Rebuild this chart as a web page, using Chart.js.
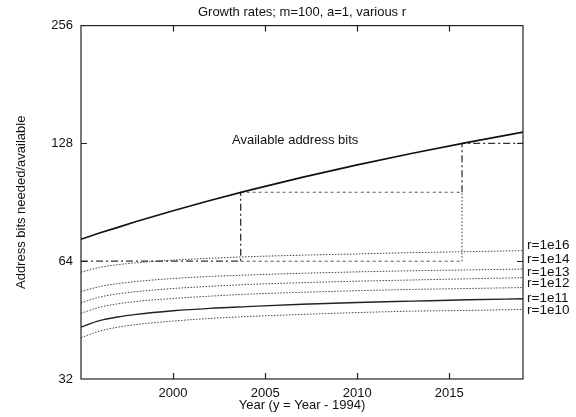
<!DOCTYPE html>
<html>
<head>
<meta charset="utf-8">
<title>Growth rates</title>
<script src="https://cdn.jsdelivr.net/npm/chart.js@4/dist/chart.umd.min.js"></script>
<style>
  html, body { margin: 0; padding: 0; background: #fff; }
  canvas { display: block; }
</style>
</head>
<body>
<canvas id="growthChart" width="576" height="417"></canvas>
<script>
// --- Data ---
const years = [1995, 1996, 1997, 1998, 2000, 2002, 2004, 2007, 2010, 2013, 2016, 2019];
const availableBits = [72.8, 75.5, 78.1, 80.8, 86.1, 91.5, 96.8, 104.8, 112.8, 120.8, 128.8, 136.8];
const r1e16 = [60.0, 61.7, 62.7, 63.4, 64.4, 65.1, 65.7, 66.3, 66.8, 67.3, 67.7, 68.1];
const r1e14 = [53.5, 55.1, 56.1, 56.8, 57.8, 58.5, 59.0, 59.6, 60.1, 60.5, 60.8, 61.1];
const r1e13 = [50.1, 51.8, 52.8, 53.5, 54.5, 55.2, 55.8, 56.4, 56.9, 57.3, 57.7, 58.1];
const r1e12 = [47.1, 48.8, 49.8, 50.5, 51.4, 52.1, 52.7, 53.3, 53.8, 54.2, 54.5, 54.8];
const r1e11 = [43.4, 45.1, 46.1, 46.8, 47.8, 48.5, 49.0, 49.7, 50.2, 50.6, 51.0, 51.3];
const r1e10 = [40.8, 42.4, 43.4, 44.1, 45.0, 45.7, 46.2, 46.8, 47.3, 47.7, 47.9, 48.2];

// staircase of address sizes (year where each step happens, bit levels)
const stepYears = [1995, 2003.67, 2015.69, 2019];
const stepBits = [64, 96, 128];

// curve labels at the right edge and the value they sit at
const rLabels = ['r=1e16', 'r=1e14', 'r=1e13', 'r=1e12', 'r=1e11', 'r=1e10'];
const rLabelBits = [70.1, 64.8, 60.0, 56.2, 51.5, 48.0];
const availLabel = 'Available address bits';

const xTicks = [2000, 2005, 2010, 2015];
const yTicks = [32, 64, 128, 256];

const FONT = '"Liberation Sans", Arial, Helvetica, sans-serif';

// --- helpers ---
const pts = (vals) => years.map((yr, i) => ({ x: yr, y: vals[i] }));
const gap = { x: null, y: null };

function curve(vals, dashed, width, color) {
    return {
        data: pts(vals),
        borderColor: color,
        borderWidth: width,
        borderDash: dashed ? [1.5, 1.5] : [],
        pointRadius: 0,
        fill: false,
        cubicInterpolationMode: 'monotone'
    };
}

// dark dash-dot steps
const stepDark = [
    { x: stepYears[0], y: stepBits[0] }, { x: stepYears[1], y: stepBits[0] }, { x: stepYears[1], y: stepBits[1] },
    gap,
    { x: stepYears[2], y: stepBits[1] }, { x: stepYears[2], y: stepBits[2] }, { x: stepYears[3], y: stepBits[2] }
];
// lighter dashed levels
const stepLight = [
    { x: stepYears[1], y: stepBits[1] }, { x: stepYears[2], y: stepBits[1] },
    gap,
    { x: stepYears[1], y: stepBits[0] }, { x: stepYears[2], y: stepBits[0] }
];
// dotted riser
const stepRiser = [
    { x: stepYears[2], y: stepBits[0] }, { x: stepYears[2], y: stepBits[1] }
];

const datasets = [
    { data: pts(availableBits), borderColor: '#111', borderWidth: 1.6, pointRadius: 0, fill: false },
    { data: stepDark, borderColor: '#333', borderWidth: 1.3, borderDash: [7, 3, 2, 3], pointRadius: 0, spanGaps: false },
    { data: stepLight, borderColor: '#555', borderWidth: 1.1, borderDash: [3, 3], pointRadius: 0, spanGaps: false },
    { data: stepRiser, borderColor: '#555', borderWidth: 1.2, borderDash: [1.5, 2], pointRadius: 0 },
    curve(r1e16, true, 1, '#444'),
    curve(r1e14, true, 1, '#444'),
    curve(r1e13, true, 1, '#444'),
    curve(r1e12, true, 1, '#444'),
    curve(r1e11, false, 1.4, '#222'),
    curve(r1e10, true, 1, '#444')
];

// --- frame, inward ticks and text labels ---
const framePlugin = {
    id: 'frame',
    afterDatasetsDraw(chart) {
        const { ctx, chartArea: a, scales: { x, y } } = chart;
        ctx.save();
        ctx.strokeStyle = '#222';
        ctx.lineWidth = 1.2;
        ctx.strokeRect(a.left, a.top, a.right - a.left, a.bottom - a.top);

        ctx.beginPath();
        xTicks.forEach(v => {
            const px = Math.round(x.getPixelForValue(v)) + 0.5;
            ctx.moveTo(px, a.bottom); ctx.lineTo(px, a.bottom - 6);
            ctx.moveTo(px, a.top); ctx.lineTo(px, a.top + 6);
        });
        yTicks.slice(1, -1).forEach(v => {
            const py = Math.round(y.getPixelForValue(v)) + 0.5;
            ctx.moveTo(a.left, py); ctx.lineTo(a.left + 6, py);
            ctx.moveTo(a.right, py); ctx.lineTo(a.right - 6, py);
        });
        ctx.stroke();

        ctx.fillStyle = '#111';
        ctx.textBaseline = 'middle';
        ctx.textAlign = 'left';
        ctx.font = '13.5px ' + FONT;
        rLabels.forEach((t, i) => {
            ctx.fillText(t, a.right + 4, y.getPixelForValue(rLabelBits[i]));
        });
        ctx.font = '13px ' + FONT;
        ctx.fillText(availLabel, x.getPixelForValue(2003.2), y.getPixelForValue(130));
        ctx.restore();
    }
};

new Chart(document.getElementById('growthChart'), {
    type: 'line',
    data: { datasets: datasets },
    options: {
        responsive: false,
        animation: false,
        layout: { padding: { top: 0, right: 53, bottom: 0, left: 0 } },
        plugins: {
            legend: { display: false },
            tooltip: { enabled: false },
            title: {
                display: true,
                text: 'Growth rates; m=100, a=1, various r',
                fullSize: false,
                color: '#111',
                font: { family: FONT, size: 13, weight: 'normal' },
                padding: { top: 5, bottom: 5 }
            }
        },
        scales: {
            x: {
                type: 'linear',
                min: 1995,
                max: 2019,
                grid: { display: false, drawTicks: false },
                border: { display: false },
                afterBuildTicks: (s) => { s.ticks = xTicks.map(v => ({ value: v })); },
                afterFit: (s) => { s.height = 38; },
                ticks: {
                    color: '#111',
                    font: { family: FONT, size: 13 },
                    padding: 7,
                    maxRotation: 0,
                    callback: (v) => String(v)
                },
                title: {
                    display: true,
                    text: 'Year (y = Year - 1994)',
                    color: '#111',
                    font: { family: FONT, size: 13 },
                    padding: { top: 0, bottom: 4 }
                }
            },
            y: {
                type: 'logarithmic',
                min: 32,
                max: 256,
                grid: { display: false, drawTicks: false },
                border: { display: false },
                afterBuildTicks: (s) => { s.ticks = yTicks.map(v => ({ value: v })); },
                afterFit: (s) => { s.width = 81; },
                ticks: {
                    color: '#111',
                    font: { family: FONT, size: 13 },
                    padding: 8,
                    callback: (v) => String(v)
                },
                title: {
                    display: true,
                    text: 'Address bits needed/available',
                    color: '#111',
                    font: { family: FONT, size: 13 },
                    padding: { top: 14, bottom: 0 }
                }
            }
        }
    },
    plugins: [framePlugin]
});
</script>
</body>
</html>
